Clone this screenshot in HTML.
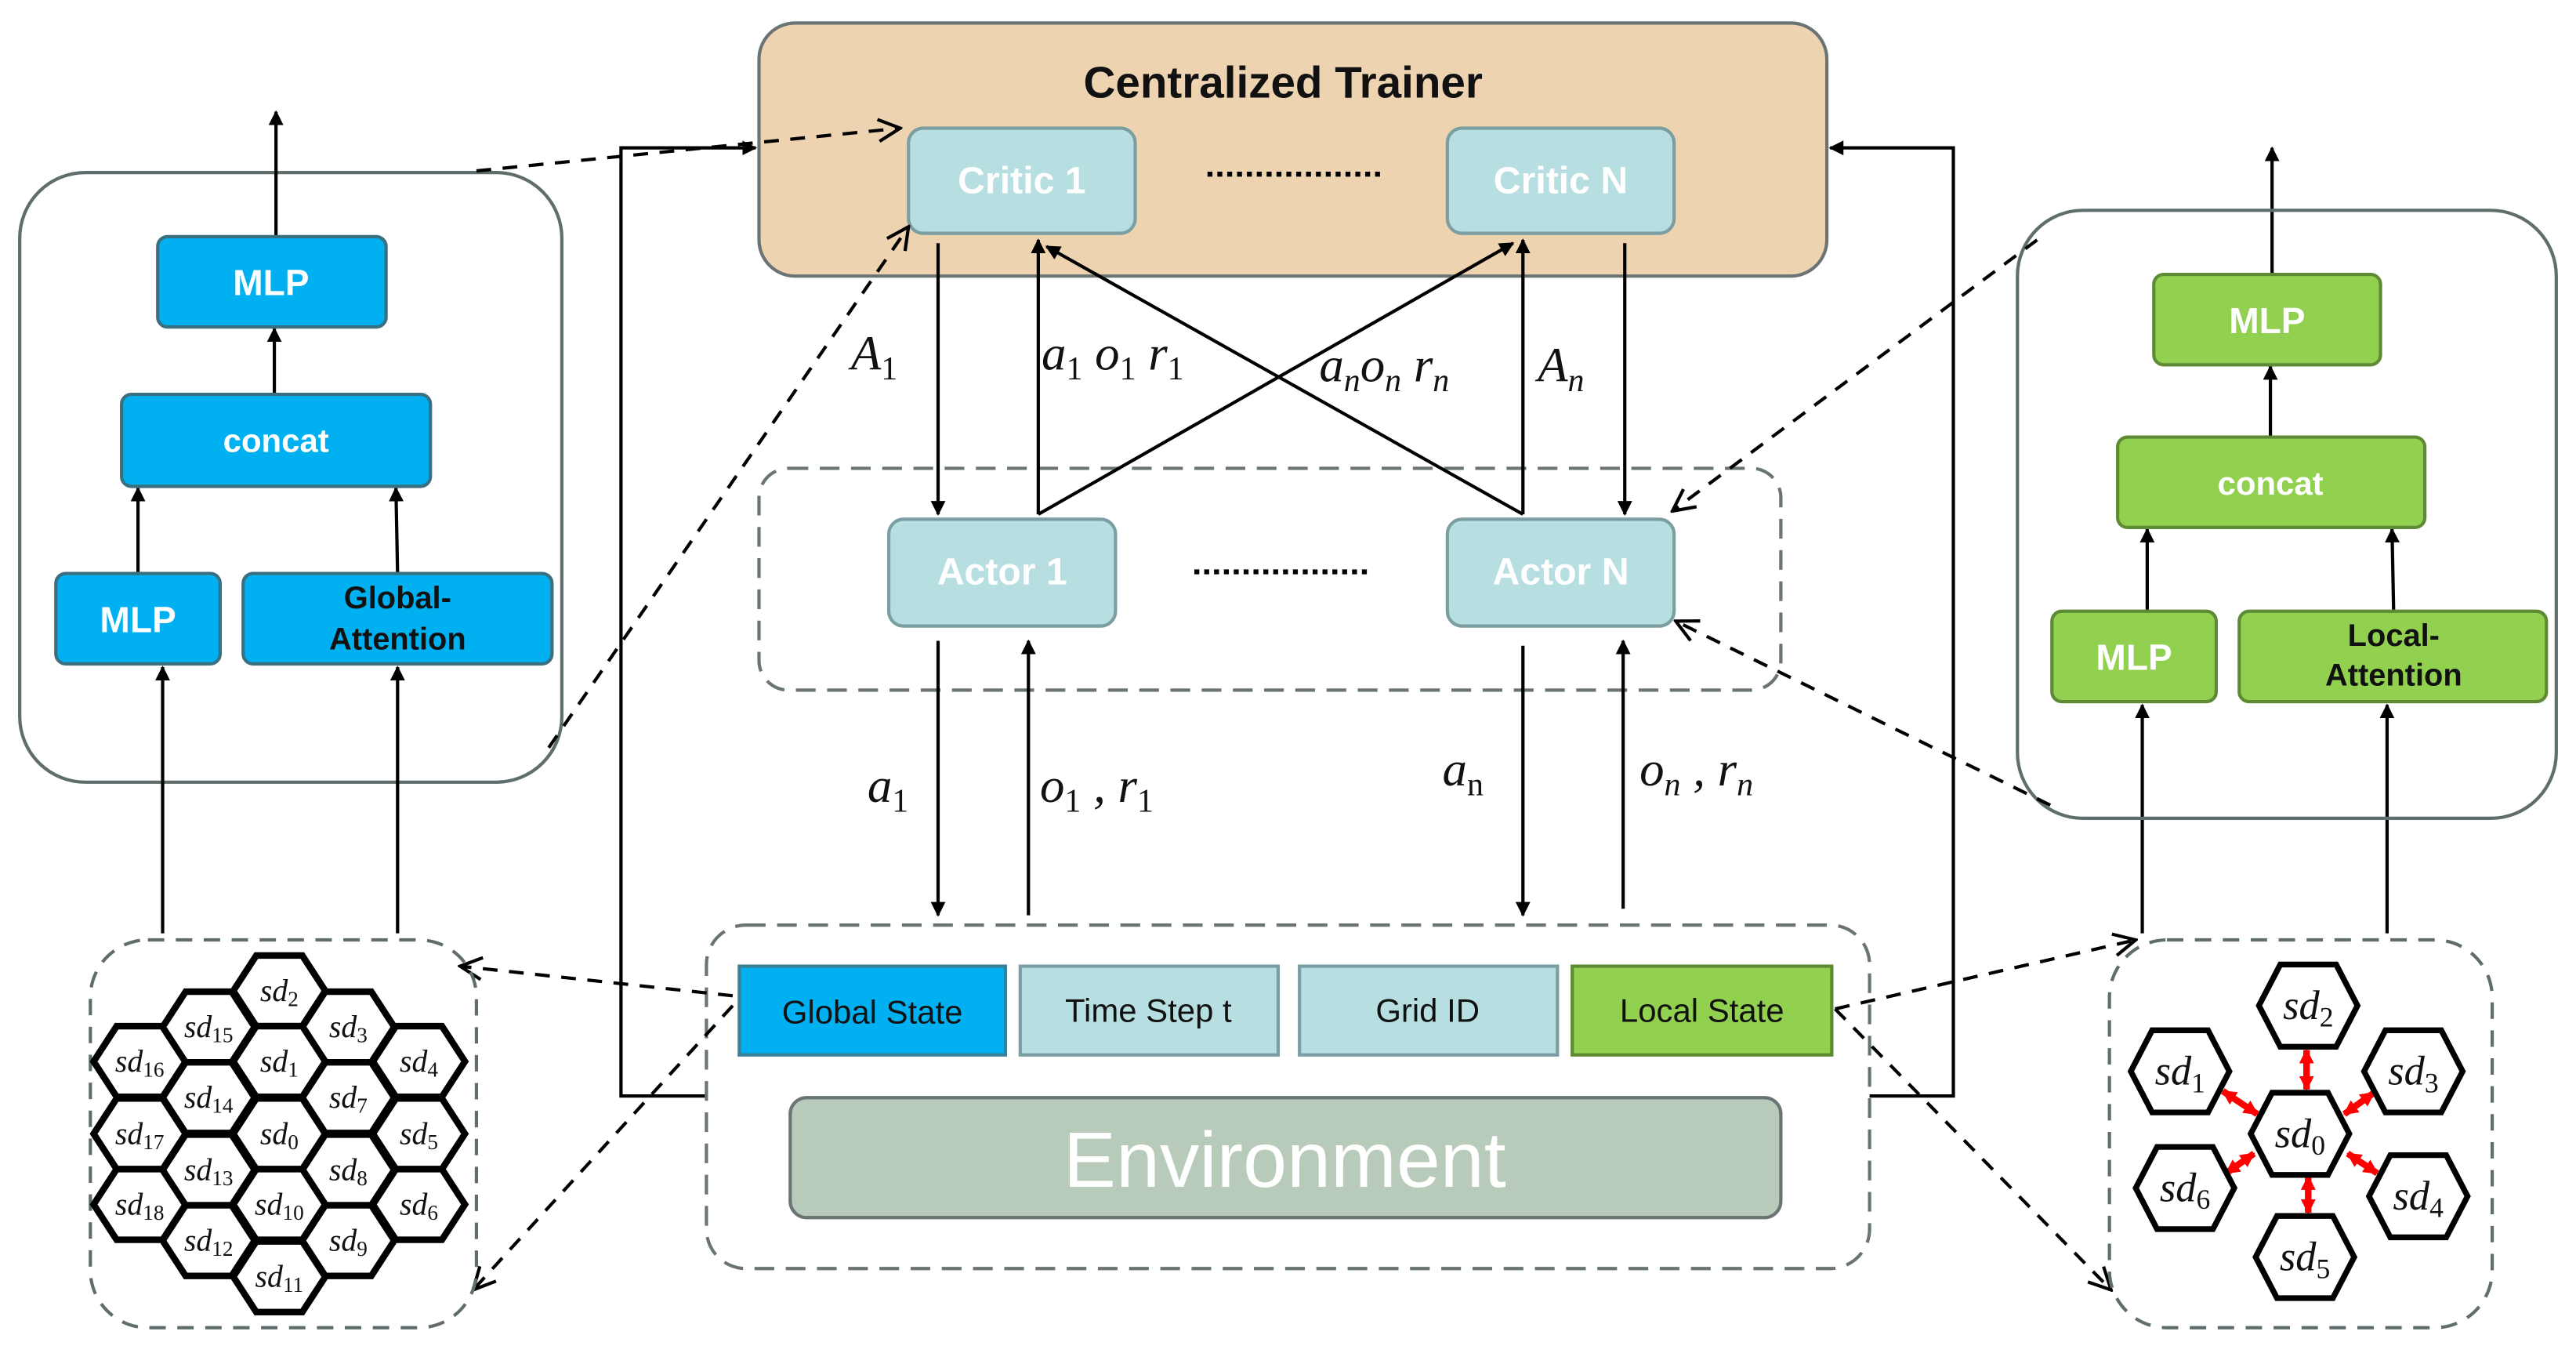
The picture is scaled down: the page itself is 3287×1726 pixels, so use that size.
<!DOCTYPE html>
<html><head><meta charset="utf-8"><style>
html,body{margin:0;padding:0;background:#fff}
svg{display:block}
.b{font-family:"Liberation Sans",sans-serif;font-weight:bold;fill:#fff;text-anchor:middle;dominant-baseline:central}
.n{font-family:"Liberation Sans",sans-serif;fill:#111;text-anchor:middle;dominant-baseline:central;font-size:20px}
.m{font-family:"Liberation Serif",serif;font-style:italic;fill:#111;font-size:30px}
.h{font-family:"Liberation Serif",serif;font-style:italic;fill:#111;text-anchor:middle;dominant-baseline:central;font-size:19px}
.hr{font-family:"Liberation Serif",serif;font-style:italic;fill:#111;text-anchor:middle;dominant-baseline:central;font-size:25px}
tspan.s{font-style:normal}
</style></head><body>
<svg width="3287" height="1726" viewBox="0 0 1568 823.4" preserveAspectRatio="none" xmlns="http://www.w3.org/2000/svg">
<defs>
<marker id="ah" viewBox="0 0 10 10" refX="9" refY="5" markerWidth="9" markerHeight="9" orient="auto" markerUnits="userSpaceOnUse"><path d="M0,0 L10,5 L0,10 z" fill="#000"/></marker>
<marker id="oa" viewBox="0 0 12 12" refX="11" refY="6" markerWidth="16" markerHeight="16" orient="auto" markerUnits="userSpaceOnUse"><path d="M1,1 L11,6 L1,11" fill="none" stroke="#000" stroke-width="1.5"/></marker>
<marker id="ra" viewBox="0 0 10 10" refX="9" refY="5" markerWidth="9" markerHeight="9" orient="auto-start-reverse" markerUnits="userSpaceOnUse"><path d="M0,0 L10,5 L0,10 z" fill="#f00"/></marker>
<polygon id="hx" points="-28,0 -14,-21.5 14,-21.5 28,0 14,21.5 -14,21.5" fill="#fff" stroke="#000" stroke-width="4" stroke-linejoin="miter"/>
<polygon id="hxr" points="-30,0 -17,-25 17,-25 30,0 17,25 -17,25" fill="#fff" stroke="#000" stroke-width="3.5"/>
</defs>
<g stroke="#000" stroke-width="2" fill="none">
<polyline points="430,667 378,667 378,90 460,90" marker-end="url(#ah)"/>
<polyline points="1138,667 1189,667 1189,90 1114,90" marker-end="url(#ah)"/>
</g>
<rect x="462" y="14" width="650" height="154" rx="22" fill="#eed3b1" stroke="#6b7474" stroke-width="2"/>
<text x="781" y="50" class="b" style="fill:#111;font-size:27px">Centralized Trainer</text>
<rect x="553" y="78" width="138" height="64" rx="9" fill="#b7dfe2" stroke="#7a9ea2" stroke-width="2"/>
<text x="622" y="110" class="b" font-size="23">Critic 1</text>
<rect x="881" y="78" width="138" height="64" rx="9" fill="#b7dfe2" stroke="#7a9ea2" stroke-width="2"/>
<text x="950" y="110" class="b" font-size="23">Critic N</text>
<line x1="735" y1="106" x2="840" y2="106" stroke="#000" stroke-width="3" stroke-dasharray="3,3"/>
<rect x="462" y="285" width="622" height="135" rx="18" fill="none" stroke="#6b7474" stroke-width="2" stroke-dasharray="12,7"/>
<rect x="541" y="316" width="138" height="65" rx="9" fill="#b7dfe2" stroke="#7a9ea2" stroke-width="2"/>
<text x="610" y="348" class="b" font-size="23">Actor 1</text>
<rect x="881" y="316" width="138" height="65" rx="9" fill="#b7dfe2" stroke="#7a9ea2" stroke-width="2"/>
<text x="950" y="348" class="b" font-size="23">Actor N</text>
<line x1="727" y1="348" x2="833" y2="348" stroke="#000" stroke-width="3" stroke-dasharray="3,3"/>
<g stroke="#000" stroke-width="2" fill="none" marker-end="url(#ah)">
<line x1="571" y1="148" x2="571" y2="313"/>
<line x1="632" y1="313" x2="632" y2="146"/>
<line x1="632" y1="313" x2="921" y2="148"/>
<line x1="927" y1="313" x2="637" y2="150"/>
<line x1="927" y1="313" x2="927" y2="146"/>
<line x1="989" y1="148" x2="989" y2="313"/>
<line x1="571" y1="390" x2="571" y2="557"/>
<line x1="626" y1="557" x2="626" y2="390"/>
<line x1="927" y1="393" x2="927" y2="557"/>
<line x1="988" y1="553" x2="988" y2="390"/>
</g>
<text x="518" y="225" class="m">A<tspan class="s" font-size="20" dy="6">1</tspan></text>
<text x="634" y="225" class="m">a<tspan class="s" font-size="20" dy="6">1</tspan><tspan dy="-6"> o</tspan><tspan class="s" font-size="20" dy="6">1</tspan><tspan dy="-6"> r</tspan><tspan class="s" font-size="20" dy="6">1</tspan></text>
<text x="803" y="232" class="m">a<tspan font-size="20" dy="6">n</tspan><tspan dy="-6">o</tspan><tspan font-size="20" dy="6">n</tspan><tspan dy="-6"> r</tspan><tspan font-size="20" dy="6">n</tspan></text>
<text x="936" y="232" class="m">A<tspan font-size="20" dy="6">n</tspan></text>
<text x="528" y="488" class="m">a<tspan class="s" font-size="20" dy="6">1</tspan></text>
<text x="633" y="488" class="m">o<tspan class="s" font-size="20" dy="6">1</tspan><tspan dy="-6"> , r</tspan><tspan class="s" font-size="20" dy="6">1</tspan></text>
<text x="878" y="478" class="m">a<tspan class="s" font-size="20" dy="6">n</tspan></text>
<text x="998" y="478" class="m">o<tspan font-size="20" dy="6">n</tspan><tspan dy="-6">  , r</tspan><tspan font-size="20" dy="6">n</tspan></text>
<rect x="430" y="563" width="708" height="209" rx="24" fill="none" stroke="#6b7474" stroke-width="2" stroke-dasharray="12,7"/>
<rect x="450" y="588" width="162" height="54" fill="#00b0f0" stroke="#3a7f96" stroke-width="2"/>
<text x="531" y="616" class="n">Global State</text>
<rect x="621" y="588" width="157" height="54" fill="#b7dfe2" stroke="#7a9ea2" stroke-width="2"/>
<text x="699" y="615" class="n">Time Step t</text>
<rect x="791" y="588" width="157" height="54" fill="#b7dfe2" stroke="#7a9ea2" stroke-width="2"/>
<text x="869" y="615" class="n">Grid ID</text>
<rect x="957" y="588" width="158" height="54" fill="#92d050" stroke="#5f8a35" stroke-width="2"/>
<text x="1036" y="615" class="n">Local State</text>
<rect x="481" y="668" width="603" height="73" rx="10" fill="#b8cab9" stroke="#6b7474" stroke-width="2"/>
<text x="782" y="706" class="b" font-size="48" style="font-weight:normal">Environment</text>
<rect x="12" y="105" width="330" height="371" rx="40" fill="none" stroke="#5f6d6d" stroke-width="2"/>
<g stroke="#000" stroke-width="2" marker-end="url(#ah)">
<line x1="168" y1="144" x2="168" y2="68"/>
<line x1="167" y1="240" x2="167" y2="200"/>
<line x1="84" y1="349" x2="84" y2="297"/>
<line x1="242" y1="349" x2="241" y2="297"/>
<line x1="99" y1="568" x2="99" y2="406"/>
<line x1="242" y1="568" x2="242" y2="406"/>
<line x1="1304" y1="568" x2="1304" y2="429"/>
<line x1="1453" y1="568" x2="1453" y2="429"/>
<line x1="1307" y1="372" x2="1307" y2="322"/>
<line x1="1457" y1="372" x2="1456" y2="322"/>
<line x1="1382" y1="266" x2="1382" y2="223"/>
<line x1="1383" y1="167" x2="1383" y2="90"/>
</g>
<rect x="96" y="144" width="139" height="55" rx="6" fill="#00b0f0" stroke="#3a6f80" stroke-width="2"/>
<text x="165" y="172" class="b" font-size="22">MLP</text>
<rect x="74" y="240" width="188" height="56" rx="6" fill="#00b0f0" stroke="#3a6f80" stroke-width="2"/>
<text x="168" y="268" class="b" font-size="20">concat</text>
<rect x="34" y="349" width="100" height="55" rx="6" fill="#00b0f0" stroke="#3a6f80" stroke-width="2"/>
<text x="84" y="377" class="b" font-size="22">MLP</text>
<rect x="148" y="349" width="188" height="55" rx="6" fill="#00b0f0" stroke="#3a6f80" stroke-width="2"/>
<text x="242" y="364" class="b" style="fill:#111" font-size="19">Global-</text>
<text x="242" y="389" class="b" style="fill:#111" font-size="19">Attention</text>
<rect x="1228" y="128" width="328" height="370" rx="40" fill="none" stroke="#5f6d6d" stroke-width="2"/>
<rect x="1311" y="167" width="138" height="55" rx="6" fill="#92d050" stroke="#5f8a35" stroke-width="2"/>
<text x="1380" y="195" class="b" font-size="22">MLP</text>
<rect x="1289" y="266" width="187" height="55" rx="6" fill="#92d050" stroke="#5f8a35" stroke-width="2"/>
<text x="1382" y="294" class="b" font-size="20">concat</text>
<rect x="1249" y="372" width="100" height="55" rx="6" fill="#92d050" stroke="#5f8a35" stroke-width="2"/>
<text x="1299" y="400" class="b" font-size="22">MLP</text>
<rect x="1363" y="372" width="187" height="55" rx="6" fill="#92d050" stroke="#5f8a35" stroke-width="2"/>
<text x="1457" y="387" class="b" style="fill:#111" font-size="19">Local-</text>
<text x="1457" y="411" class="b" style="fill:#111" font-size="19">Attention</text>
<g stroke="#000" stroke-width="2" fill="none" stroke-dasharray="9,7" marker-end="url(#oa)">
<line x1="290" y1="104" x2="548" y2="78"/>
<line x1="334" y1="455" x2="553" y2="138"/>
<line x1="1240" y1="146" x2="1018" y2="311"/>
<line x1="1248" y1="490" x2="1020" y2="378"/>
<line x1="446" y1="606" x2="280" y2="588"/>
<line x1="446" y1="612" x2="288" y2="785"/>
<line x1="1117" y1="614" x2="1300" y2="572"/>
<line x1="1117" y1="614" x2="1285" y2="785"/>
</g>
<rect x="55" y="572" width="235" height="236" rx="35" fill="none" stroke="#5f6d6d" stroke-width="2" stroke-dasharray="10,7"/>
<rect x="1284" y="572" width="233" height="236" rx="35" fill="none" stroke="#5f6d6d" stroke-width="2" stroke-dasharray="10,7"/>
<g>
<use href="#hx" x="85" y="646"/><use href="#hx" x="85" y="690"/><use href="#hx" x="85" y="733"/>
<use href="#hx" x="255" y="646"/><use href="#hx" x="255" y="690"/><use href="#hx" x="255" y="733"/>
<use href="#hx" x="127" y="625"/><use href="#hx" x="127" y="668"/><use href="#hx" x="127" y="712"/><use href="#hx" x="127" y="755"/>
<use href="#hx" x="212" y="625"/><use href="#hx" x="212" y="668"/><use href="#hx" x="212" y="712"/><use href="#hx" x="212" y="755"/>
<use href="#hx" x="170" y="603"/><use href="#hx" x="170" y="646"/><use href="#hx" x="170" y="690"/><use href="#hx" x="170" y="733"/><use href="#hx" x="170" y="777"/>
</g>
<g>
<text class="h" x="85" y="646">sd<tspan class="s" font-size="13" dy="5">16</tspan></text>
<text class="h" x="85" y="690">sd<tspan class="s" font-size="13" dy="5">17</tspan></text>
<text class="h" x="85" y="733">sd<tspan class="s" font-size="13" dy="5">18</tspan></text>
<text class="h" x="127" y="625">sd<tspan class="s" font-size="13" dy="5">15</tspan></text>
<text class="h" x="127" y="668">sd<tspan class="s" font-size="13" dy="5">14</tspan></text>
<text class="h" x="127" y="712">sd<tspan class="s" font-size="13" dy="5">13</tspan></text>
<text class="h" x="127" y="755">sd<tspan class="s" font-size="13" dy="5">12</tspan></text>
<text class="h" x="170" y="603">sd<tspan class="s" font-size="13" dy="5">2</tspan></text>
<text class="h" x="170" y="646">sd<tspan class="s" font-size="13" dy="5">1</tspan></text>
<text class="h" x="170" y="690">sd<tspan class="s" font-size="13" dy="5">0</tspan></text>
<text class="h" x="170" y="733">sd<tspan class="s" font-size="13" dy="5">10</tspan></text>
<text class="h" x="170" y="777">sd<tspan class="s" font-size="13" dy="5">11</tspan></text>
<text class="h" x="212" y="625">sd<tspan class="s" font-size="13" dy="5">3</tspan></text>
<text class="h" x="212" y="668">sd<tspan class="s" font-size="13" dy="5">7</tspan></text>
<text class="h" x="212" y="712">sd<tspan class="s" font-size="13" dy="5">8</tspan></text>
<text class="h" x="212" y="755">sd<tspan class="s" font-size="13" dy="5">9</tspan></text>
<text class="h" x="255" y="646">sd<tspan class="s" font-size="13" dy="5">4</tspan></text>
<text class="h" x="255" y="690">sd<tspan class="s" font-size="13" dy="5">5</tspan></text>
<text class="h" x="255" y="733">sd<tspan class="s" font-size="13" dy="5">6</tspan></text>
</g>
<g stroke="#f00" stroke-width="4" marker-start="url(#ra)" marker-end="url(#ra)">
<line x1="1404" y1="639" x2="1404" y2="663"/>
<line x1="1405" y1="716" x2="1405" y2="738"/>
<line x1="1353" y1="664" x2="1374" y2="678"/>
<line x1="1445" y1="665" x2="1427" y2="678"/>
<line x1="1355" y1="714" x2="1372" y2="702"/>
<line x1="1429" y1="702" x2="1447" y2="714"/>
</g>
<use href="#hxr" x="1405" y="612"/>
<use href="#hxr" x="1327" y="652"/>
<use href="#hxr" x="1469" y="652"/>
<use href="#hxr" x="1400" y="690"/>
<use href="#hxr" x="1330" y="723"/>
<use href="#hxr" x="1472" y="728"/>
<use href="#hxr" x="1403" y="765"/>
<text class="hr" x="1405" y="612">sd<tspan class="s" font-size="17" dy="7">2</tspan></text>
<text class="hr" x="1327" y="652">sd<tspan class="s" font-size="17" dy="7">1</tspan></text>
<text class="hr" x="1469" y="652">sd<tspan class="s" font-size="17" dy="7">3</tspan></text>
<text class="hr" x="1400" y="690">sd<tspan class="s" font-size="17" dy="7">0</tspan></text>
<text class="hr" x="1330" y="723">sd<tspan class="s" font-size="17" dy="7">6</tspan></text>
<text class="hr" x="1472" y="728">sd<tspan class="s" font-size="17" dy="7">4</tspan></text>
<text class="hr" x="1403" y="765">sd<tspan class="s" font-size="17" dy="7">5</tspan></text>
</svg>
</body></html>
